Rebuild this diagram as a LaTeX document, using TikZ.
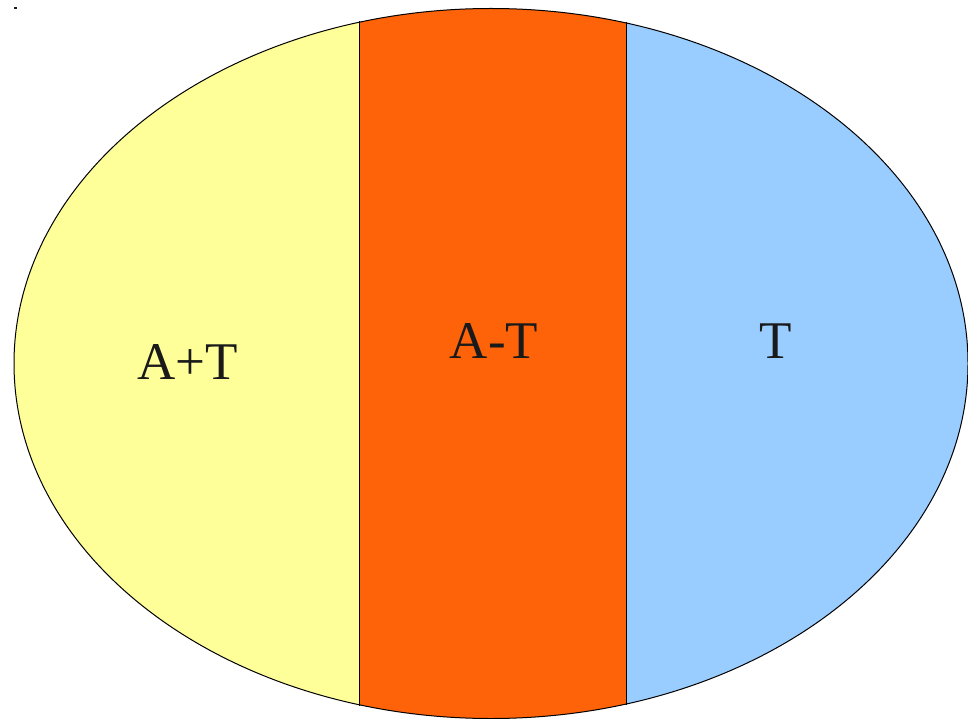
\documentclass[tikz,border=0pt]{standalone}
\usepackage{fontspec}
\setmainfont{Liberation Serif}
\usepackage{tikz}
\usetikzlibrary{positioning}
\definecolor{zoneYellow}{RGB}{255,255,153}
\definecolor{zoneOrange}{RGB}{255,99,9}
\definecolor{zoneBlue}{RGB}{153,204,255}
\definecolor{labelInk}{RGB}{26,26,26}

\begin{document}
\begin{tikzpicture}[x=1pt,y=-1pt,
  zone/.style={draw=black,line width=1pt},
  lbl/.style={inner sep=0pt,text=labelInk,font=\fontsize{53}{60}\selectfont}]
\useasboundingbox (0,0) rectangle (968,719);
\fill[labelInk] (14,7.5) rectangle (16.5,9);
\begin{scope}
  \clip (491,363.5) ellipse [x radius=477,y radius=355];
  \fill[zoneYellow] (0,0) rectangle (359,719);
  \fill[zoneOrange] (359,0) rectangle (626,719);
  \fill[zoneBlue] (626,0) rectangle (968,719);
\end{scope}
\coordinate (ltop) at (359,21.5);
\coordinate (lbot) at (359,705.5);
\coordinate (rtop) at (626,22.5);
\coordinate (rbot) at (626,704.5);
\draw[zone] (ltop) -- (lbot);
\draw[zone] (rtop) -- (rbot);
\draw[zone] (491,363.5) ellipse [x radius=477,y radius=355];
\node[lbl] (at) at (188,362.5) {A+T};
\node[lbl] (amt) at (494,341.5) {A-T};
\node[lbl] (t) at (776,341.5) {T};
\end{tikzpicture}
\end{document}
